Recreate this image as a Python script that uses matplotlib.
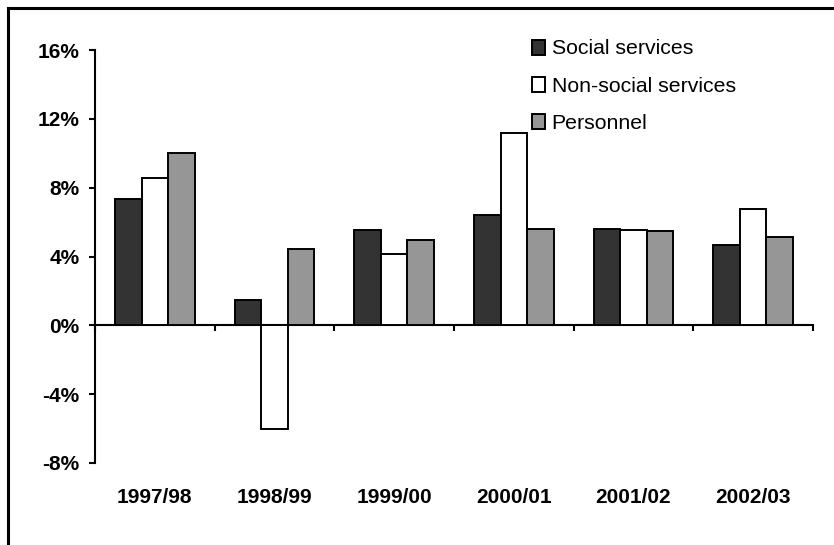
import numpy as np
import matplotlib.pyplot as plt
from matplotlib.patches import Patch
from matplotlib.lines import Line2D
from matplotlib.transforms import blended_transform_factory

plt.rcParams['font.family'] = ['Liberation Sans', 'DejaVu Sans']

# Annual growth rates (%)
years = ["1997/98", "1998/99", "1999/00", "2000/01", "2001/02", "2002/03"]
social = [7.35, 1.45, 5.55, 6.4, 5.6, 4.65]
non_social = [8.55, -6.05, 4.15, 11.15, 5.55, 6.75]
personnel = [10.0, 4.45, 4.95, 5.6, 5.5, 5.15]

series_names = ["Social services", "Non-social services", "Personnel"]
colors = ["#333333", "#ffffff", "#969696"]

fig = plt.figure(figsize=(8.34, 5.45), dpi=100)
ax = fig.add_axes([95 / 834, 82 / 545, 718 / 834, 413 / 545])

x = np.arange(len(years))
w = 2 / 9
for k, vals in enumerate([social, non_social, personnel]):
    ax.bar(x + (k - 1) * w, vals, width=w, color=colors[k],
           edgecolor="black", linewidth=1.4, zorder=3)

ax.set_xlim(-0.5, len(years) - 0.5)
ax.set_ylim(-8, 16)
ax.set_yticks(np.arange(-8, 17, 4))
ax.set_yticklabels([f"{v}%" for v in range(-8, 17, 4)],
                   fontsize=15, fontweight="bold")

# category axis crosses at zero, tick marks between groups
ax.spines["bottom"].set_position(("data", 0))
ax.spines["top"].set_visible(False)
ax.spines["right"].set_visible(False)
for s in ("left", "bottom"):
    ax.spines[s].set_linewidth(1.5)
ax.set_xticks(np.arange(-0.5, len(years), 1.0))
ax.set_xticklabels([])
ax.tick_params(axis="both", direction="out", length=4, width=1.5)
ax.tick_params(axis="y", pad=7)

trans = blended_transform_factory(ax.transData, ax.transAxes)
for xi, lab in zip(x, years):
    ax.text(xi, -0.083, lab, transform=trans, ha="center", va="center",
            fontsize=15, fontweight="bold")

handles = [Patch(facecolor=c, edgecolor="black", linewidth=1.4) for c in colors]
fig.legend(handles, series_names, loc="upper left",
           bbox_to_anchor=(532 / 834, 1 - 39.5 / 545), frameon=False,
           fontsize=15.3, handlelength=0.62, handleheight=0.7,
           handletextpad=0.3, labelspacing=0.86, borderpad=0, borderaxespad=0)

# outer frame on left and top
fig.add_artist(Line2D([7.5 / 834, 7.5 / 834], [0, 1 - 7.5 / 545],
                      transform=fig.transFigure, color="black", linewidth=2.2,
                      solid_capstyle="projecting"))
fig.add_artist(Line2D([7.5 / 834, 1], [1 - 7.5 / 545, 1 - 7.5 / 545],
                      transform=fig.transFigure, color="black", linewidth=2.2,
                      solid_capstyle="projecting"))

fig.savefig("out.png", dpi=100)
